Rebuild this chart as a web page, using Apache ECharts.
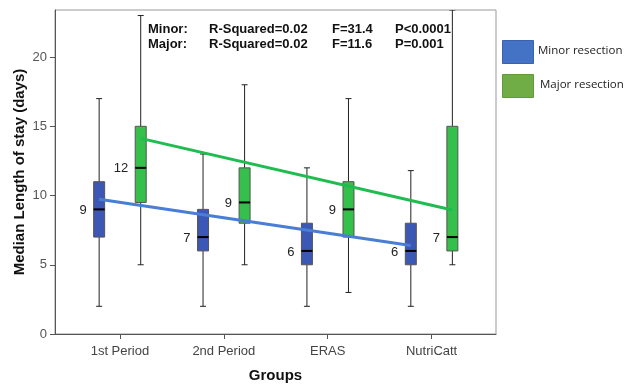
<!DOCTYPE html>
<html>
<head>
<meta charset="utf-8">
<script src="https://cdn.jsdelivr.net/npm/echarts@6/dist/echarts.min.js"></script>
<style>html,body{margin:0;padding:0;background:#fff}#c{width:625px;height:387px}</style>
</head>
<body>
<div id="c"></div>
<script>
const categories = ['1st Period', '2nd Period', 'ERAS', 'NutriCatt'];
// [min, Q1, median, Q3, max]
const minorStats = [[2, 7, 9, 11, 17], [2, 6, 7, 9, 13], [2, 5, 6, 8, 12], [2, 5, 6, 8, 11.8]];
const majorStats = [[5, 9.5, 12, 15, 23], [5, 8, 9.5, 12, 18], [3, 7, 9, 11, 17], [5, 6, 7, 15, 23.4]];
const minorLabels = [9, 7, 6, 6];
const majorLabels = [12, 9, 9, 7];
// regression line end values (first group, last group)
const minorTrend = [9.73, 6.39];
const majorTrend = [14.13, 8.96];
const yTicks = [0, 5, 10, 15, 20];
const legendNames = ['Minor resection', 'Major resection'];
const statsLines = [
  ['Minor:', 'R-Squared=0.02', 'F=31.4', 'P<0.0001'],
  ['Major:', 'R-Squared=0.02', 'F=11.6', 'P=0.001']
];

const OFF = 0.2;
const FONT = 'Liberation Sans, Arial, sans-serif';

function makeData(stats, labels) {
  return stats.map((s, i) => [i].concat(s).concat([labels[i]]));
}

function makeRender(offset, fill) {
  return function (params, api) {
    const x = api.value(0) + offset;
    const p = [1, 2, 3, 4, 5].map(k => api.coord([x, api.value(k)]));
    const cx = p[0][0];
    const half = 5.5, cap = 3;
    const lineStyle = { stroke: '#222', lineWidth: 1 };
    const children = [
      { type: 'line', shape: { x1: cx, y1: p[4][1], x2: cx, y2: p[3][1] }, style: lineStyle },
      { type: 'line', shape: { x1: cx, y1: p[1][1], x2: cx, y2: p[0][1] }, style: lineStyle },
      { type: 'line', shape: { x1: cx - cap, y1: p[4][1], x2: cx + cap, y2: p[4][1] }, style: lineStyle },
      { type: 'line', shape: { x1: cx - cap, y1: p[0][1], x2: cx + cap, y2: p[0][1] }, style: lineStyle },
      { type: 'rect', shape: { x: cx - half, y: p[3][1], width: half * 2, height: p[1][1] - p[3][1] },
        style: { fill: fill, stroke: '#555', lineWidth: 1 } },
      { type: 'line', shape: { x1: cx - half, y1: p[2][1], x2: cx + half, y2: p[2][1] },
        style: { stroke: '#000', lineWidth: 2 } },
      { type: 'text', style: { x: cx - half - 7, y: p[2][1] + 1, text: String(api.value(6)),
        align: 'right', verticalAlign: 'middle', fill: '#222', font: '13px ' + FONT } }
    ];
    return { type: 'group', children: children };
  };
}

const legendColors = [['#4472c4', '#3b63ad'], ['#70ad47', '#5f9a3b']];
const legendGraphics = legendNames.flatMap((name, i) => [
  { type: 'rect', left: 502, top: 40 + i * 34, z: 10,
    shape: { width: 31, height: 23 },
    style: { fill: legendColors[i][0], stroke: legendColors[i][1], lineWidth: 1 } },
  { type: 'text', left: 538 + i * 2, top: 45 + i * 34, z: 10,
    style: { text: name, font: '11.5px "Open Sans", sans-serif', fill: '#222' } }
]);

const chart = echarts.init(document.getElementById('c'), null, { renderer: 'canvas' });
chart.setOption({
  animation: false,
  backgroundColor: '#fff',
  grid: { left: 55, right: 129, top: 10, bottom: 53, show: true, borderColor: '#999', borderWidth: 1,
    outerBoundsMode: 'none', containLabel: false },
  xAxis: {
    type: 'value', min: -0.625, max: 3.62,
    name: 'Groups', nameLocation: 'middle', nameGap: 34, nameMoveOverlap: false,
    nameTextStyle: { fontFamily: FONT, fontWeight: 'bold', fontSize: 15, color: '#111' },
    axisLine: { onZero: false, lineStyle: { color: '#555' } },
    axisTick: { customValues: [0, 1, 2, 3], length: 5, lineStyle: { color: '#555' } },
    axisLabel: { customValues: [0, 1, 2, 3], formatter: v => categories[Math.round(v)], margin: 11,
      fontFamily: FONT, fontSize: 13, color: '#444' },
    splitLine: { show: false }
  },
  yAxis: {
    type: 'value', min: 0, max: 23.4,
    name: 'Median Length of stay (days)', nameLocation: 'middle', nameGap: 28, nameRotate: 90,
    nameMoveOverlap: false,
    nameTextStyle: { fontFamily: FONT, fontWeight: 'bold', fontSize: 15, color: '#111' },
    axisLine: { show: true, onZero: false, lineStyle: { color: '#555' } },
    axisTick: { show: true, customValues: yTicks, length: 5, lineStyle: { color: '#555' } },
    axisLabel: { customValues: yTicks, fontFamily: FONT, fontSize: 13, color: '#555', margin: 8 },
    splitLine: { show: false }
  },
  series: [
    { name: 'Minor resection', type: 'custom', renderItem: makeRender(-OFF, '#3c57b4'),
      data: makeData(minorStats, minorLabels), encode: { x: 0, y: [1, 2, 3, 4, 5] }, z: 2, clip: true },
    { name: 'Major resection', type: 'custom', renderItem: makeRender(OFF, '#35bf4b'),
      data: makeData(majorStats, majorLabels), encode: { x: 0, y: [1, 2, 3, 4, 5] }, z: 2, clip: true },
    { name: 'Minor trend', type: 'line', symbol: 'none', z: 5,
      lineStyle: { color: '#4a7dd4', width: 3 },
      data: [[0 - OFF, minorTrend[0]], [categories.length - 1 - OFF, minorTrend[1]]] },
    { name: 'Major trend', type: 'line', symbol: 'none', z: 5,
      lineStyle: { color: '#1fbd50', width: 3 },
      data: [[0 + OFF, majorTrend[0]], [categories.length - 1 + OFF, majorTrend[1]]] }
  ],
  graphic: legendGraphics.concat(statsLines.flatMap((row, r) => {
    const xs = [148, 209, 332, 395];
    return row.map((t, k) => ({
      type: 'text', left: xs[k], top: 23 + r * 15, z: 10,
      style: { text: t, font: 'bold 13px ' + FONT, fill: '#111' }
    }));
  }))
});
</script>
</body>
</html>
